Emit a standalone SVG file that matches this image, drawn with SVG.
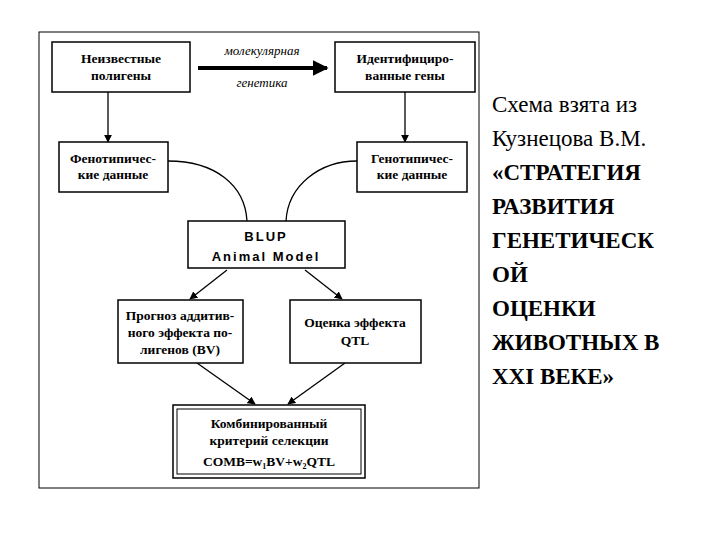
<svg xmlns="http://www.w3.org/2000/svg" width="720" height="540" viewBox="0 0 720 540">
<style>
.b{fill:#fff;stroke:#000;stroke-width:1.5}
.t{font-family:"Liberation Serif",serif;font-weight:bold;font-size:13.5px;text-anchor:middle}
.i{font-family:"Liberation Serif",serif;font-style:italic;font-size:13px;text-anchor:middle}
.c{fill:none;stroke:#000;stroke-width:1.3}
.r{font-family:"Liberation Serif",serif;font-size:23px}
.rb{font-family:"Liberation Serif",serif;font-size:23px;font-weight:bold}
</style>
<defs><marker id="a" viewBox="0 0 10 10" refX="9" refY="5" markerWidth="8" markerHeight="8" markerUnits="userSpaceOnUse" orient="auto"><path d="M0,0L10,5L0,10z"/></marker>
<marker id="ab" viewBox="0 0 10 10" refX="9" refY="5" markerWidth="4" markerHeight="4" orient="auto"><path d="M0,0L10,5L0,10z"/></marker></defs>
<rect x="39" y="32" width="440" height="456" fill="none" stroke="#000" stroke-width="1"/>
<g id="connectors">
<line x1="198" y1="68" x2="327" y2="68" stroke="#000" stroke-width="4" marker-end="url(#ab)"/>
<text class="i" x="262" y="55">молекулярная</text>
<text class="i" x="262" y="87">генетика</text>
<line class="c" x1="108" y1="92" x2="108" y2="142" marker-end="url(#a)"/>
<line class="c" x1="405" y1="92" x2="405" y2="142" stroke="#777" marker-end="url(#a)"/>
<path class="c" d="M168,161C215,161 245,185 247,221"/>
<path class="c" d="M357,161C320,161 288,185 286,221"/>
<line class="c" x1="227" y1="270" x2="190" y2="299" marker-end="url(#a)"/>
<line class="c" x1="305" y1="270" x2="342" y2="299" marker-end="url(#a)"/>
<line class="c" x1="197" y1="363" x2="255" y2="404" marker-end="url(#a)"/>
<line class="c" x1="345" y1="363" x2="288" y2="404" marker-end="url(#a)"/>
</g>
<g id="n1"><rect class="b" x="52" y="42" width="138" height="50" stroke-width="3"/><text class="t" x="121" y="63">Неизвестные</text><text class="t" x="121" y="80">полигены</text></g>
<g id="n2"><rect class="b" x="335" y="42" width="140" height="50" stroke-width="3"/><text class="t" x="405" y="63">Идентифициро-</text><text class="t" x="405" y="80">ванные гены</text></g>
<g id="n3"><rect class="b" x="59" y="142" width="109" height="50"/><text class="t" x="113" y="163">Фенотипичес-</text><text class="t" x="113" y="179">кие данные</text></g>
<g id="n4"><rect class="b" x="357" y="142" width="110" height="50"/><text class="t" x="412" y="163">Генотипичес-</text><text class="t" x="412" y="179">кие данные</text></g>
<g id="n5"><rect class="b" x="188" y="221" width="157" height="47"/><text x="266" y="241" font-family="Liberation Sans,sans-serif" font-weight="bold" font-size="13" letter-spacing="2" text-anchor="middle">BLUP</text><text x="266" y="261" font-family="Liberation Sans,sans-serif" font-weight="bold" font-size="13" letter-spacing="2" text-anchor="middle">Animal Model</text></g>
<g id="n6"><rect class="b" x="118" y="300" width="125" height="63"/><text class="t" x="180" y="320">Прогноз аддитив-</text><text class="t" x="180" y="337">ного эффекта по-</text><text class="t" x="180" y="354">лигенов (BV)</text></g>
<g id="n7"><rect class="b" x="290" y="300" width="131" height="63"/><text class="t" x="355" y="327">Оценка эффекта</text><text class="t" x="355" y="345">QTL</text></g>
<g id="n8"><rect class="b" x="173" y="405" width="192" height="73" stroke-width="3"/><rect x="177" y="409" width="184" height="65" fill="none" stroke="#000" stroke-width="1"/><text class="t" x="269" y="428" font-size="15">Комбинированный</text><text class="t" x="269" y="445" font-size="15">критерий селекции</text><text class="t" x="269" y="466" font-size="15">COMB=w<tspan font-size="8" dy="3">1</tspan><tspan dy="-3">BV+w</tspan><tspan font-size="8" dy="3">2</tspan><tspan dy="-3">QTL</tspan></text></g>
<text class="r" x="492" y="112">Схема взята из</text>
<text class="r" x="492" y="146">Кузнецова В.М.</text>
<text class="rb" x="492" y="180">«СТРАТЕГИЯ</text>
<text class="rb" x="492" y="214">РАЗВИТИЯ</text>
<text class="rb" x="492" y="248">ГЕНЕТИЧЕСК</text>
<text class="rb" x="492" y="282">ОЙ</text>
<text class="rb" x="492" y="316">ОЦЕНКИ</text>
<text class="rb" x="492" y="350">ЖИВОТНЫХ В</text>
<text class="rb" x="492" y="384">XXI ВЕКЕ»</text>
</svg>
